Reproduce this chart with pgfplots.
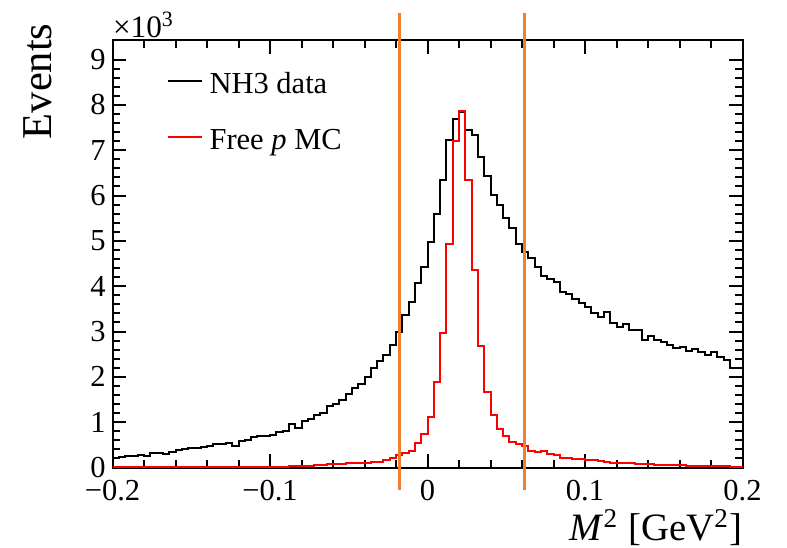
\documentclass[border=0pt]{standalone}
\usepackage{fontspec}
\setmainfont{Liberation Serif}
\usepackage{pgfplots}
\usepackage{pgfplotstable}
\pgfplotsset{compat=1.18}
\definecolor{cutorange}{RGB}{238,128,48}

\pgfplotstableread{
x data mc
-0.200 0.21 0.01
-0.196 0.24 0.01
-0.192 0.25 0.01
-0.188 0.26 0.01
-0.184 0.28 0.01
-0.180 0.25 0.01
-0.176 0.32 0.01
-0.172 0.33 0.01
-0.168 0.30 0.01
-0.164 0.35 0.01
-0.160 0.39 0.01
-0.156 0.40 0.01
-0.152 0.43 0.01
-0.148 0.44 0.01
-0.144 0.46 0.01
-0.140 0.48 0.01
-0.136 0.51 0.01
-0.132 0.52 0.01
-0.128 0.55 0.01
-0.124 0.48 0.01
-0.120 0.58 0.01
-0.116 0.61 0.02
-0.112 0.67 0.02
-0.108 0.69 0.02
-0.104 0.70 0.02
-0.100 0.71 0.02
-0.096 0.78 0.02
-0.092 0.80 0.02
-0.088 0.95 0.03
-0.084 0.88 0.03
-0.080 1.03 0.04
-0.076 1.08 0.04
-0.072 1.15 0.05
-0.068 1.21 0.06
-0.064 1.36 0.07
-0.060 1.41 0.08
-0.056 1.49 0.08
-0.052 1.62 0.09
-0.048 1.75 0.09
-0.044 1.84 0.10
-0.040 2.00 0.11
-0.036 2.19 0.13
-0.032 2.35 0.13
-0.028 2.48 0.16
-0.024 2.70 0.20
-0.020 2.98 0.27
-0.016 3.36 0.31
-0.012 3.66 0.36
-0.008 4.06 0.55
-0.004 4.43 0.73
0.000 4.97 1.12
0.004 5.60 1.88
0.008 6.35 2.96
0.012 7.22 4.92
0.016 7.69 7.21
0.020 7.84 7.87
0.024 7.44 6.35
0.028 7.34 4.36
0.032 6.85 2.68
0.036 6.43 1.67
0.040 6.02 1.16
0.044 5.78 0.84
0.048 5.51 0.70
0.052 5.28 0.56
0.056 4.93 0.52
0.060 4.76 0.47
0.064 4.63 0.36
0.068 4.43 0.34
0.072 4.23 0.36
0.076 4.15 0.29
0.080 4.10 0.27
0.084 3.88 0.22
0.088 3.82 0.20
0.092 3.71 0.19
0.096 3.62 0.18
0.100 3.55 0.17
0.104 3.40 0.17
0.108 3.31 0.14
0.112 3.44 0.13
0.116 3.18 0.11
0.120 3.11 0.11
0.124 3.16 0.10
0.128 3.03 0.09
0.132 3.03 0.08
0.136 2.81 0.07
0.140 2.91 0.07
0.144 2.81 0.06
0.148 2.76 0.06
0.152 2.70 0.05
0.156 2.63 0.05
0.160 2.65 0.05
0.164 2.57 0.04
0.168 2.61 0.04
0.172 2.55 0.04
0.176 2.48 0.03
0.180 2.54 0.03
0.184 2.43 0.03
0.188 2.37 0.03
0.192 2.20 0.02
0.196 2.20 0.02
0.200 2.20 0.02
}\hist

\begin{document}
\begin{tikzpicture}
\begin{axis}[
  scale only axis,
  width=252pt, height=171pt,
  xmin=-0.2, xmax=0.2, ymin=0, ymax=9.43,
  clip=false,
  axis line style={line width=0.8pt},
  every tick/.style={black, line width=0.8pt},
  tick align=inside,
  tick pos=both,
  major tick length=5.5pt,
  minor tick length=3pt,
  xtick={-0.2,-0.1,0,0.1,0.2},
  xticklabels={−0.2,−0.1,0,0.1,0.2},
  minor x tick num=4,
  ytick={0,1,2,3,4,5,6,7,8,9},
  yticklabels={0,1,2,3,4,5,6,7,8,9},
  minor y tick num=4,
  ticklabel pos=left,
  tick label style={font=\fontsize{12.2}{14}\selectfont},
  xticklabel style={inner sep=0pt, yshift=-4.8pt},
  yticklabel style={inner sep=0pt, xshift=-2.6pt},
  legend style={at={(rel axis cs:0.0862,0.935)}, anchor=north west,
    draw=none, fill=none, inner sep=0pt, row sep=12.2pt, column sep=2.8pt,
    font=\fontsize{12.2}{14}\selectfont,
    nodes={inner sep=0pt, text height=10.2pt, text depth=0pt}},
  legend cell align=left,
  legend image code/.code={\draw[#1] (0pt,0pt) -- (13.3pt,0pt);},
]
\addplot[black, line width=0.8pt, const plot mark left] table[x=x, y=data] {\hist};
\addlegendentry{NH3 data}
\addplot[red, line width=0.8pt, const plot mark left] table[x=x, y=mc] {\hist};
\addlegendentry{Free \textit{p} MC}
\addplot[cutorange, line width=1.1pt, forget plot] coordinates {(-0.0179,-0.5) (-0.0179,10.03)};
\addplot[cutorange, line width=1.1pt, forget plot] coordinates {(0.0615,-0.5) (0.0615,10.03)};
\end{axis}
\node[rotate=90, anchor=north east, inner sep=0pt, font=\fontsize{17}{20}\selectfont]
  at ([xshift=-35.8pt, yshift=6.8pt]current axis.north west) {Events};
\node[anchor=base east, inner sep=0pt, font=\fontsize{15.5}{18}\selectfont]
  at ([yshift=-29.3pt]current axis.south east) {\textit{M}\textsuperscript{2} [GeV\textsuperscript{2}]};
\node[anchor=base west, inner sep=0pt, font=\fontsize{12.5}{14}\selectfont]
  at ([yshift=1pt]current axis.north west) {×10\textsuperscript{3}};
\pgfresetboundingbox
\path ([xshift=-45pt, yshift=-31.8pt]current axis.south west) rectangle ([xshift=17.8pt, yshift=16pt]current axis.north east);
\end{tikzpicture}
\end{document}
